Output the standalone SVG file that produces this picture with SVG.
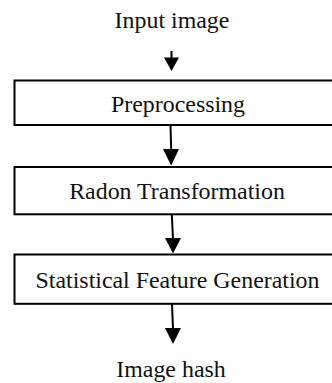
<svg xmlns="http://www.w3.org/2000/svg" width="332" height="383" viewBox="0 0 332 383">
<style>
.box{fill:#fff;stroke:#000;stroke-width:2}
.t{font-family:"Liberation Serif","Times New Roman",serif;font-size:23.9px;fill:#111;text-anchor:middle}
.sh{stroke:#000;stroke-width:2;fill:none}
.hd{fill:#000}
</style>
<rect width="332" height="383" fill="#fff"/>
<g id="input"><text class="t" x="172" y="28.3">Input image</text></g>
<g id="preprocessing"><rect class="box" x="14.5" y="80.5" width="330" height="44.5"/><text class="t" x="178" y="112.3">Preprocessing</text></g>
<g id="radon"><rect class="box" x="14.5" y="167" width="330" height="47.3"/><text class="t" x="177" y="199">Radon Transformation</text></g>
<g id="statistical"><rect class="box" x="14.5" y="254.5" width="330" height="49.3"/><text class="t" x="177.5" y="288.3">Statistical Feature Generation</text></g>
<g id="output"><text class="t" x="171" y="376.7">Image hash</text></g>
<g id="connectors">
<line class="sh" x1="171.5" y1="51" x2="171.5" y2="58"/>
<polygon class="hd" points="164,57.5 179,57.5 171.5,71"/>
<line class="sh" x1="170.5" y1="125.5" x2="171.2" y2="150"/>
<polygon class="hd" points="163,149 179,149 171.2,165.5"/>
<line class="sh" x1="171.8" y1="214.5" x2="173" y2="239"/>
<polygon class="hd" points="165,238 181,238 173,253.5"/>
<line class="sh" x1="172" y1="304" x2="173" y2="329"/>
<polygon class="hd" points="165,328 181,328 173,344"/>
</g>
</svg>
